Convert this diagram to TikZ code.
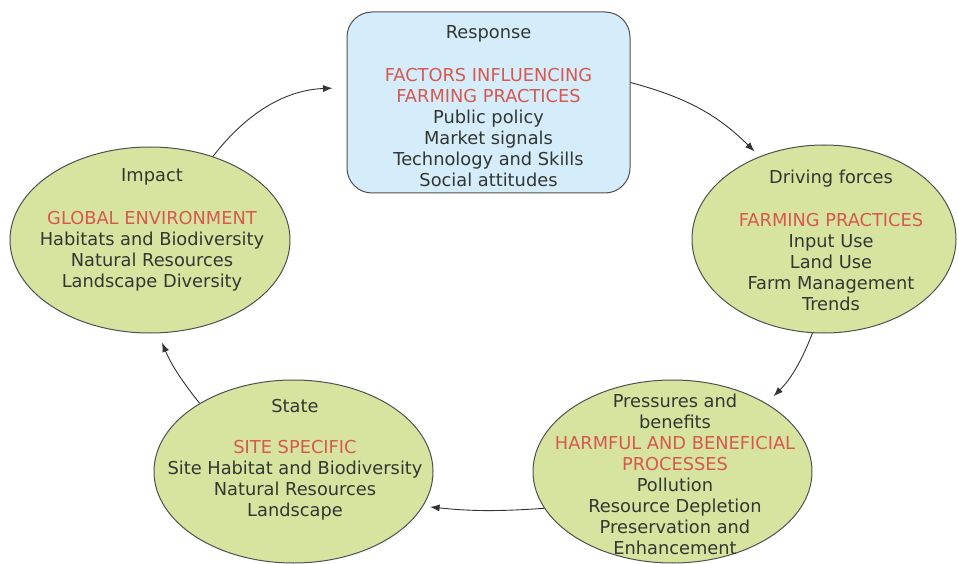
\documentclass[tikz,border=0pt]{standalone}
\usepackage{fontspec}
\setmainfont{DejaVu Sans}
\usepackage{xcolor}
\usetikzlibrary{shapes.geometric,arrows.meta}
\definecolor{azzurro}{RGB}{213,236,250}
\definecolor{verdino}{RGB}{214,228,160}
\definecolor{rosso}{RGB}{214,88,80}
\definecolor{grigiotesto}{RGB}{50,55,50}
\definecolor{grigiobordo}{RGB}{80,80,80}

\begin{document}
\begin{tikzpicture}[x=1pt,y=-1pt,
    stadio/.style={ellipse, draw=grigiobordo, fill=verdino, line width=1pt, inner sep=0pt},
    testo/.style={align=center, text=grigiotesto, font=\fontsize{17.8}{21}\selectfont},
    freccia/.style={-{Latex[length=9.5pt,width=7pt]}, draw=black!80, line width=0.9pt}]
        % Sfondo
        \useasboundingbox (0,0) rectangle (959,564);
        \fill[white] (0,0) rectangle (959,564);

        % Riquadro e ellissi
        \node[draw=grigiobordo, fill=azzurro, line width=1pt, rounded corners=25pt,
              minimum width=283pt, minimum height=181pt] (risposta) at (488.5,102.5) {};
        \node[stadio, minimum width=280pt, minimum height=186pt] (impatto) at (150,240) {};
        \node[stadio, minimum width=264pt, minimum height=188pt] (forze) at (824,239) {};
        \node[stadio, minimum width=279pt, minimum height=183pt] (pressioni) at (672.5,471.5) {};
        \node[stadio, minimum width=279pt, minimum height=183pt] (stato) at (293.5,471.5) {};

        % Testi
        \node[testo] (testorisposta) at (488.5,106) {Response\\[22pt]
            \textcolor{rosso}{FACTORS INFLUENCING}\\\textcolor{rosso}{FARMING PRACTICES}\\
            Public policy\\Market signals\\Technology and Skills\\Social attitudes};
        \node[testo] (testoimpatto) at (152,230) {Impact\\[22pt]
            \textcolor{rosso}{GLOBAL ENVIRONMENT}\\Habitats and Biodiversity\\
            Natural Resources\\Landscape Diversity};
        \node[testo] (testoforze) at (831,240) {Driving forces\\[22pt]
            \textcolor{rosso}{FARMING PRACTICES}\\Input Use\\Land Use\\
            Farm Management\\Trends};
        \node[testo] (testopressioni) at (675,474) {Pressures and\\benefits\\
            \textcolor{rosso}{HARMFUL AND BENEFICIAL}\\\textcolor{rosso}{PROCESSES}\\
            Pollution\\Resource Depletion\\Preservation and\\Enhancement};
        \node[testo] (testostato) at (295,460) {State\\[20pt]
            \textcolor{rosso}{SITE SPECIFIC}\\Site Habitat and Biodiversity\\
            Natural Resources\\Landscape};

        % Frecce del ciclo
        \draw[freccia, shorten >=14pt] (impatto.53) to[bend left=25] (risposta.174);
        \draw[freccia, shorten >=7pt] (risposta.8) to[bend left=15] (forze.128);
        \draw[freccia, shorten >=10pt] (forze.263) to[bend left=12] (pressioni.36);
        \draw[freccia, shorten >=7pt] (pressioni.196) to[bend left=5] (stato.345);
        \draw[freccia, shorten >=10pt] (stato.144) to[bend left=8] (impatto.275);
\end{tikzpicture}
\end{document}
